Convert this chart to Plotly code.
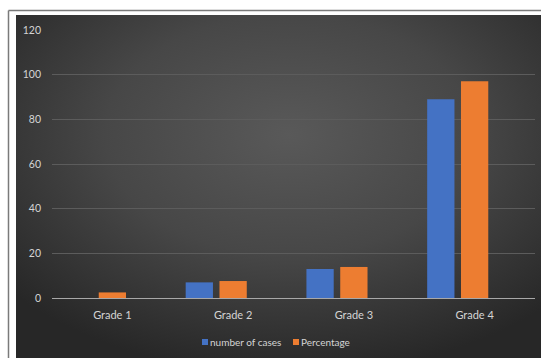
import plotly.graph_objects as go
import urllib.parse

categories = ["Grade 1", "Grade 2", "Grade 3", "Grade 4"]
number_of_cases = [0, 7, 13, 89]
percentage = [2.5, 7.6, 13.9, 97]
y_ticks = [0, 20, 40, 60, 80, 100, 120]
series_names = ["number of cases", "Percentage"]
series_colors = ["#4472c4", "#ed7d31"]

W, H = 541, 358
L, R, T, B = 52, 6, 30, 60
pw, ph = W - L - R, H - T - B

def px_x(x):
    return (x - L) / pw

def px_y(y):
    return (H - B - y) / ph

svg = (
    "<svg xmlns='http://www.w3.org/2000/svg' width='525' height='343' viewBox='0 0 525 343' preserveAspectRatio='none'>"
    "<defs><radialGradient id='g' cx='0.52' cy='0.35' r='0.7'>"
    "<stop offset='0' stop-color='#595959'/>"
    "<stop offset='0.5' stop-color='#474747'/>"
    "<stop offset='1' stop-color='#272727'/>"
    "</radialGradient></defs>"
    "<rect width='525' height='343' fill='url(#g)'/></svg>"
)
src = "data:image/svg+xml;charset=utf-8," + urllib.parse.quote(svg)

fig = go.Figure()
fig.add_trace(go.Bar(
    x=categories, y=number_of_cases, name=series_names[0],
    marker=dict(color=series_colors[0], line=dict(width=0)),
    width=0.226, offset=-0.393, showlegend=False,
))
fig.add_trace(go.Bar(
    x=categories, y=percentage, name=series_names[1],
    marker=dict(color=series_colors[1], line=dict(width=0)),
    width=0.226, offset=-0.113, showlegend=False,
))

shapes = [
    dict(type="line", xref="paper", yref="paper",
         x0=px_x(8.5), x1=px_x(8.5), y0=px_y(10.5), y1=px_y(H),
         line=dict(color="#7a7a7a", width=1.5)),
    dict(type="line", xref="paper", yref="paper",
         x0=px_x(8.5), x1=px_x(W), y0=px_y(10.5), y1=px_y(10.5),
         line=dict(color="#7a7a7a", width=1.5)),
]
annotations = []
legend_x = [202, 293]
for lx, name, col in zip(legend_x, series_names, series_colors):
    shapes.append(dict(type="rect", xref="paper", yref="paper",
                       x0=px_x(lx), x1=px_x(lx + 6), y0=px_y(345), y1=px_y(339),
                       fillcolor=col, line=dict(width=0)))
    annotations.append(dict(text=name, xref="paper", yref="paper",
                            x=px_x(lx + 6), y=px_y(342), xanchor="left", yanchor="middle",
                            showarrow=False, font=dict(size=10, color="#d4d4d4")))

fig.update_layout(
    width=W, height=H,
    margin=dict(l=L, r=R, t=T, b=B),
    paper_bgcolor="white",
    plot_bgcolor="rgba(0,0,0,0)",
    font=dict(family="Lato, Open Sans, sans-serif", size=10, color="#d4d4d4"),
    barmode="overlay",
    showlegend=False,
    xaxis=dict(
        range=[-0.5, 3.5], showgrid=False, showline=False, zeroline=False,
        ticks="", ticklabelstandoff=9, tickfont=dict(size=11, color="#d4d4d4"),
        fixedrange=True,
    ),
    yaxis=dict(
        range=[0, 120], tickvals=y_ticks, showgrid=True,
        gridcolor="#5c5c5c", gridwidth=1,
        zeroline=True, zerolinecolor="#a8a8a8", zerolinewidth=1,
        showline=False, ticks="", ticklabelstandoff=10,
        tickfont=dict(size=10.5, color="#d4d4d4"),
    ),
    images=[dict(
        source=src, xref="paper", yref="paper",
        x=px_x(16), y=px_y(15),
        sizex=px_x(W) - px_x(16), sizey=px_y(15) - px_y(H),
        xanchor="left", yanchor="top", sizing="stretch", layer="below",
    )],
    shapes=shapes,
    annotations=annotations,
)

fig.write_html("out.html")
